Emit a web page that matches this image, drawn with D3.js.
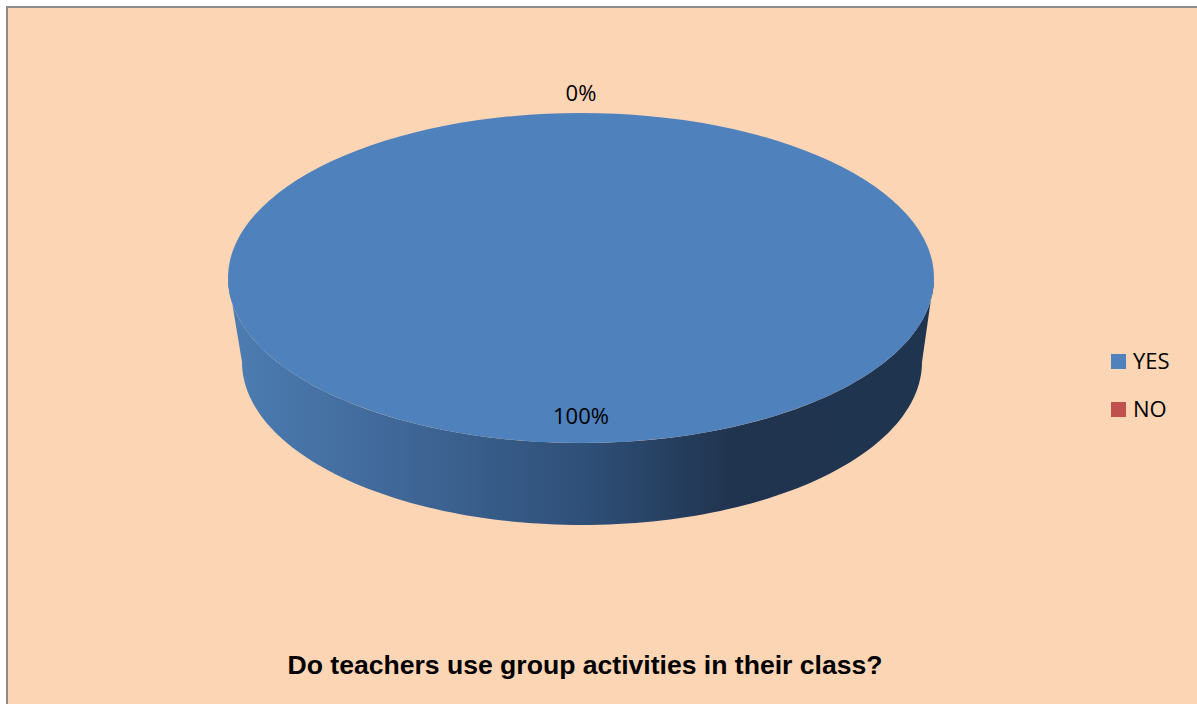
<!DOCTYPE html>
<html>
<head>
<meta charset="utf-8">
<script src="https://cdn.jsdelivr.net/npm/d3@7"></script>
<style>
  html, body { margin: 0; padding: 0; background: #ffffff; }
  svg { display: block; }
</style>
</head>
<body>
<svg id="chart" width="1197" height="704"></svg>
<script>
// Survey answers and their shares (percent)
const categories = ["YES", "NO"];
const values = [100, 0];
const colors = ["#4f81bd", "#c0504d"];
const labels = ["100%", "0%"];
const title = "Do teachers use group activities in their class?";

const W = 1197, H = 704;
const svg = d3.select("#chart");

// Plot area frame
svg.append("rect")
  .attr("x", 7).attr("y", 7)
  .attr("width", W + 20).attr("height", H + 20)
  .attr("fill", "#fcd5b5")
  .attr("stroke", "#8c8c8c")
  .attr("stroke-width", 2);

// Ellipse geometry of the tilted pie (top face and bottom rim)
const topE = { cx: 581, cy: 278, rx: 353, ry: 165 };
const botE = { cx: 582, cy: 362, rx: 340, ry: 163 };

const pie = d3.pie().sort(null).startAngle(0).endAngle(2 * Math.PI);
const arcs = pie(values);

const defs = svg.append("defs");

// point on an ellipse for a d3 pie angle (0 = 12 o'clock, clockwise)
const pt = (e, a) => [e.cx + e.rx * Math.sin(a), e.cy - e.ry * Math.cos(a)];

// Side walls: only the front half (angles between PI/2 and 3PI/2) is visible
const sideG = svg.append("g");
arcs.forEach((d, i) => {
  const a0 = Math.max(d.startAngle, Math.PI / 2);
  const a1 = Math.min(d.endAngle, 3 * Math.PI / 2);
  if (a1 <= a0) return;
  const n = 120;
  const angles = d3.range(n + 1).map(k => a0 + (a1 - a0) * k / n);
  const topPts = angles.map(a => pt(topE, a));
  const botPts = angles.map(a => pt(botE, a)).reverse();
  const base = d3.color(colors[i]);
  const gid = "side-" + i;
  const g = defs.append("linearGradient")
    .attr("id", gid)
    .attr("gradientUnits", "userSpaceOnUse")
    .attr("x1", botE.cx - botE.rx).attr("y1", 0)
    .attr("x2", botE.cx + botE.rx).attr("y2", 0);
  g.append("stop").attr("offset", 0).attr("stop-color", d3.rgb(base.r * 0.95, base.g * 0.95, base.b * 0.93));
  g.append("stop").attr("offset", 0.2).attr("stop-color", d3.rgb(base.r * 0.82, base.g * 0.82, base.b * 0.82));
  g.append("stop").attr("offset", 0.5).attr("stop-color", d3.rgb(base.r * 0.6, base.g * 0.62, base.b * 0.64));
  g.append("stop").attr("offset", 0.72).attr("stop-color", d3.rgb(base.r * 0.4, base.g * 0.4, base.b * 0.42));
  g.append("stop").attr("offset", 1).attr("stop-color", d3.rgb(base.r * 0.39, base.g * 0.4, base.b * 0.42));
  sideG.append("path")
    .attr("d", d3.line()(topPts.concat(botPts)) + "Z")
    .attr("fill", `url(#${gid})`);
});

// Top face: d3.arc on a circle, squashed vertically into the ellipse
const arc = d3.arc().innerRadius(0).outerRadius(topE.rx);
svg.append("g")
  .attr("transform", `translate(${topE.cx},${topE.cy}) scale(1,${topE.ry / topE.rx})`)
  .selectAll("path")
  .data(arcs)
  .join("path")
  .attr("d", arc)
  .attr("fill", (d, i) => colors[i]);

// Data labels: inside the big slice, just outside the rim for tiny ones
const labelFont = "'Open Sans', 'Noto Sans', sans-serif";
svg.append("g")
  .selectAll("text")
  .data(arcs)
  .join("text")
  .each(function (d, i) {
    const mid = (d.startAngle + d.endAngle) / 2;
    const f = (d.endAngle - d.startAngle) < 0.2 ? 1.12 : 0.84;
    const x = topE.cx + topE.rx * f * Math.sin(mid);
    const y = topE.cy - topE.ry * f * Math.cos(mid);
    d3.select(this)
      .attr("x", x).attr("y", y)
      .attr("dy", "0.35em")
      .text(labels[i]);
  })
  .attr("text-anchor", "middle")
  .attr("font-family", labelFont)
  .attr("font-size", 22)
  .attr("fill", "#000");

// Legend
const legend = svg.append("g").attr("transform", "translate(1111,354)");
const item = legend.selectAll("g")
  .data(categories)
  .join("g")
  .attr("transform", (d, i) => `translate(0,${i * 48})`);
item.append("rect")
  .attr("width", 15).attr("height", 15)
  .attr("fill", (d, i) => colors[i]);
item.append("text")
  .attr("x", 22).attr("y", 15)
  .attr("font-family", labelFont)
  .attr("font-size", 22)
  .attr("fill", "#000")
  .text(d => d);

// Title (bold caption below the pie)
svg.append("text")
  .attr("x", 585).attr("y", 674)
  .attr("text-anchor", "middle")
  .attr("font-family", "'Liberation Sans', Arial, sans-serif")
  .attr("font-weight", "bold")
  .attr("font-size", 25)
  .attr("textLength", 595)
  .attr("lengthAdjust", "spacingAndGlyphs")
  .attr("fill", "#000")
  .text(title);
</script>
</body>
</html>
